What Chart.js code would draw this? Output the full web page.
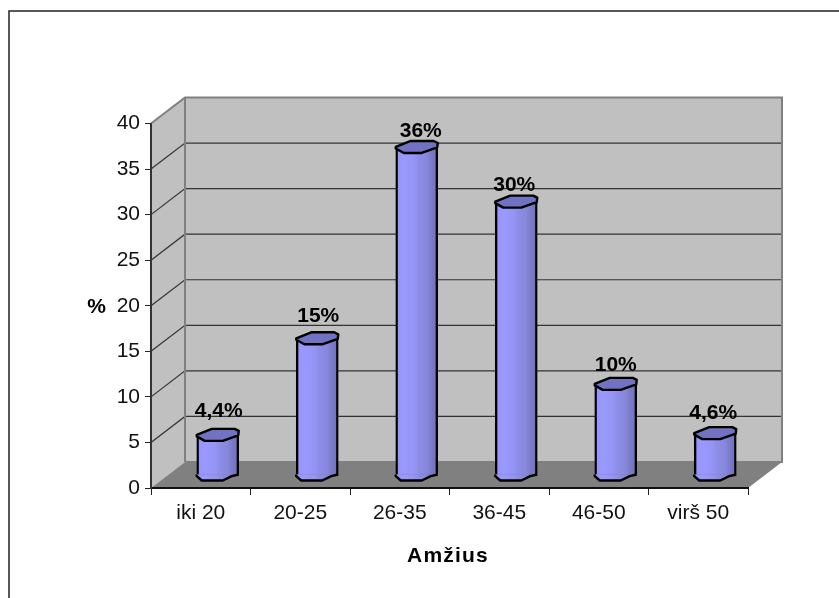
<!DOCTYPE html>
<html>
<head>
<meta charset="utf-8">
<title>Amžius</title>
<script src="https://cdn.jsdelivr.net/npm/chart.js@4/dist/chart.umd.min.js"></script>
<style>
	html, body { margin: 0; padding: 0; background: #fff; }
	canvas { display: block; }
</style>
</head>
<body>
<canvas id="age-chart" width="839" height="598"></canvas>
<script>
const categories = ['iki 20', '20-25', '26-35', '36-45', '46-50', 'virš 50'];
const shares = [4.4, 15, 36, 30, 10, 4.6];
const yTicks = [0, 5, 10, 15, 20, 25, 30, 35, 40];
const xTitle = 'Amžius';
const yTitle = '%';

const FONT = '"Liberation Sans", Arial, sans-serif';

// depth of the box the columns stand in, and half of it for the columns themselves
const DEPTH_X = 34;
const DEPTH_Y = -26;
const COLUMN_WIDTH = 42;

// outline of the column ends, relative to the centre of each end
const TOP_CAP = [[-21, 1.5], [-13, 6], [5, 6], [20.5, 0.5], [21, -4], [17, -6], [-6, -6], [-21, 0]];
const BOTTOM_EDGE = [[-21, 0], [-21, 1.7], [-16, 6], [5, 6], [14, 1.7], [21, 0]];

// hand placement of the value labels: sideways shift and lift above the column centre
const LABEL_SHIFT = [1, 1, 4, -2, 0, -2];
const LABEL_LIFT = [18, 16, 10, 11, 13, 14];

function formatShare(value) {
	return String(value).replace('.', ',') + '%';
}

function columnGradient(ctx, x) {
	const half = COLUMN_WIDTH / 2;
	const g = ctx.createLinearGradient(x - half, 0, x + half, 0);
	g.addColorStop(0, '#9494F8');
	g.addColorStop(0.2, '#9999FF');
	g.addColorStop(0.42, '#9595F6');
	g.addColorStop(0.55, '#8D8DE8');
	g.addColorStop(0.75, '#8686DA');
	g.addColorStop(0.85, '#7A7AC8');
	g.addColorStop(1, '#7070B8');
	return g;
}

function tracePolygon(ctx, x, y, points) {
	ctx.beginPath();
	points.forEach(([px, py], i) => {
		if (i === 0) ctx.moveTo(x + px, y + py);
		else ctx.lineTo(x + px, y + py);
	});
}

const boxPlugin = {
	id: 'box',
	beforeDraw(chart) {
		const { ctx, chartArea: a, scales } = chart;
		const backLeft = a.left + DEPTH_X;
		const backRight = a.right + DEPTH_X;
		const backTop = a.top + DEPTH_Y;
		const backBottom = a.bottom + DEPTH_Y;

		ctx.save();

		// frame around the chart, open on the right and at the bottom
		ctx.strokeStyle = '#222';
		ctx.lineWidth = 1.5;
		ctx.beginPath();
		ctx.moveTo(9, 598);
		ctx.lineTo(9, 11);
		ctx.lineTo(839, 11);
		ctx.stroke();

		// side wall and back wall
		ctx.fillStyle = '#C0C0C0';
		ctx.beginPath();
		ctx.moveTo(a.left, a.bottom);
		ctx.lineTo(a.left, a.top);
		ctx.lineTo(backLeft, backTop);
		ctx.lineTo(backRight, backTop);
		ctx.lineTo(backRight, backBottom);
		ctx.lineTo(backLeft, backBottom);
		ctx.closePath();
		ctx.fill();

		// floor
		ctx.fillStyle = '#808080';
		ctx.beginPath();
		ctx.moveTo(a.left, a.bottom);
		ctx.lineTo(a.right, a.bottom);
		ctx.lineTo(backRight, backBottom);
		ctx.lineTo(backLeft, backBottom);
		ctx.closePath();
		ctx.fill();

		// grid lines run back along the side wall, then across the back wall
		ctx.strokeStyle = '#333';
		ctx.lineWidth = 1.2;
		yTicks.slice(1, -1).forEach((value) => {
			const y = scales.y.getPixelForValue(value);
			ctx.beginPath();
			ctx.moveTo(a.left, y);
			ctx.lineTo(backLeft, y + DEPTH_Y);
			ctx.lineTo(backRight, y + DEPTH_Y);
			ctx.stroke();
		});

		// wall edges
		ctx.strokeStyle = '#808080';
		ctx.lineWidth = 2;
		ctx.lineJoin = 'miter';
		ctx.beginPath();
		ctx.moveTo(a.left, a.top);
		ctx.lineTo(backLeft, backTop);
		ctx.lineTo(backRight, backTop);
		ctx.lineTo(backRight, backBottom);
		ctx.lineTo(backLeft, backBottom);
		ctx.moveTo(backLeft, backTop);
		ctx.lineTo(backLeft, backBottom);
		ctx.stroke();

		ctx.restore();
	},
	// columns stand in the middle of the floor, not on the front edge
	beforeDatasetDraw(chart) {
		chart.ctx.save();
		chart.ctx.translate(DEPTH_X / 2, DEPTH_Y / 2);
	},
	afterDatasetDraw(chart, args) {
		const { ctx } = chart;
		ctx.lineJoin = 'round';
		ctx.lineWidth = 2.4;
		ctx.strokeStyle = '#000';
		args.meta.data.forEach((bar) => {
			// rounded foot of the column
			tracePolygon(ctx, bar.x, bar.base, BOTTOM_EDGE);
			ctx.fillStyle = columnGradient(ctx, bar.x);
			ctx.fill();
			ctx.stroke();

			// top end
			tracePolygon(ctx, bar.x, bar.y, TOP_CAP);
			ctx.closePath();
			ctx.fillStyle = '#7272C2';
			ctx.fill();
			ctx.stroke();
		});
		ctx.restore();
	},
	afterDraw(chart) {
		const { ctx } = chart;
		ctx.save();
		ctx.fillStyle = '#000';
		ctx.font = 'bold 21px ' + FONT;
		ctx.textAlign = 'center';
		ctx.textBaseline = 'alphabetic';

		// value above each column
		chart.getDatasetMeta(0).data.forEach((bar, i) => {
			const x = bar.x + DEPTH_X / 2 + LABEL_SHIFT[i];
			const y = bar.y + DEPTH_Y / 2 - LABEL_LIFT[i];
			ctx.fillText(formatShare(shares[i]), x, y);
		});

		// axis titles, the y one stays horizontal
		ctx.fillText(yTitle, 96.5, 313);
		ctx.letterSpacing = '1.2px';
		ctx.fillText(xTitle, 448, 562);
		ctx.restore();
	},
};

new Chart(document.getElementById('age-chart'), {
	type: 'bar',
	data: {
		labels: categories,
		datasets: [
			{
				data: shares,
				barThickness: COLUMN_WIDTH,
				borderColor: '#000',
				borderWidth: { left: 2.4, right: 2.4, top: 0, bottom: 0 },
				borderSkipped: false,
				clip: false,
				backgroundColor: (c) => {
					const x = c.chart.scales.x;
					const px = x && c.dataIndex !== undefined ? x.getPixelForValue(c.dataIndex) : NaN;
					return Number.isFinite(px) ? columnGradient(c.chart.ctx, px) : '#9999FF';
				},
			},
		],
	},
	options: {
		responsive: false,
		animation: false,
		layout: { padding: { left: 0, right: 91, top: 123.5, bottom: 0 } },
		plugins: {
			legend: { display: false },
			tooltip: { enabled: false },
		},
		scales: {
			x: {
				afterFit: (s) => { s.height = 110; },
				grid: { drawOnChartArea: false, color: '#222', tickLength: 7, lineWidth: 1 },
				border: { color: '#111', width: 2 },
				ticks: { color: '#111', font: { family: FONT, size: 21 }, padding: 6, maxRotation: 0 },
			},
			y: {
				min: 0,
				max: 40,
				afterFit: (s) => { s.width = 151; },
				afterBuildTicks: (s) => { s.ticks = yTicks.map((value) => ({ value })); },
				grid: { drawOnChartArea: false, color: '#222', tickLength: 6, lineWidth: 1 },
				border: { color: '#333', width: 2 },
				ticks: { color: '#111', font: { family: FONT, size: 21 }, padding: 5 },
			},
		},
	},
	plugins: [boxPlugin],
});
</script>
</body>
</html>
